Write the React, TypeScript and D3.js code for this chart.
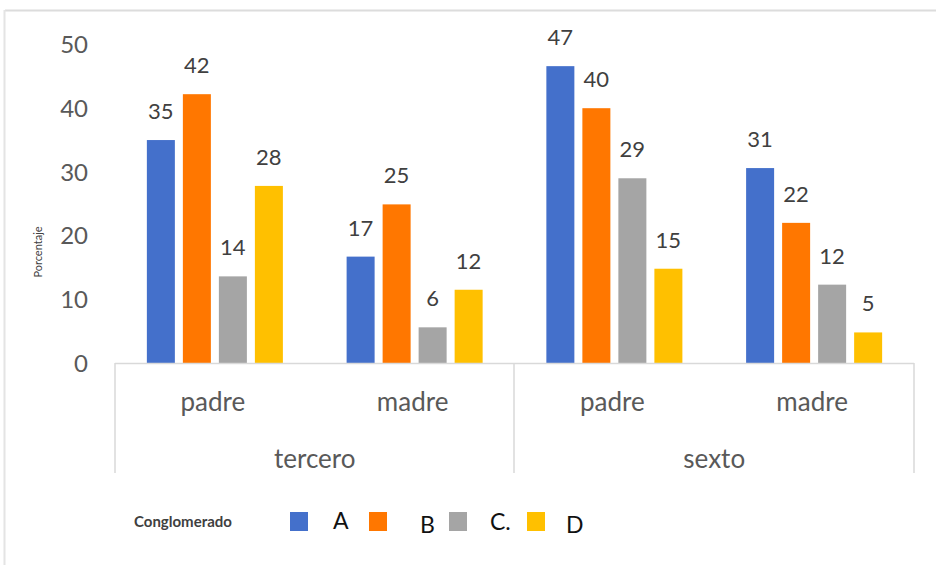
import React from "react";
import * as d3 from "d3";

const grades = ["tercero", "sexto"];
const parents = ["padre", "madre"];
const series = ["A", "B", "C.", "D"];
const colors = ["#4470CB", "#FF7700", "#A5A5A5", "#FFC000"];
// values per group (tercero-padre, tercero-madre, sexto-padre, sexto-madre) for A..D
const tercero_padre = [35, 42.2, 13.6, 27.8];
const tercero_madre = [16.7, 24.9, 5.6, 11.5];
const sexto_padre = [46.6, 40, 29, 14.8];
const sexto_madre = [30.6, 22, 12.3, 4.8];
const yTicks = [0, 10, 20, 30, 40, 50];

const groups = [
  { grade: "tercero", parent: parents[0], values: tercero_padre },
  { grade: "tercero", parent: parents[1], values: tercero_madre },
  { grade: "sexto", parent: parents[0], values: sexto_padre },
  { grade: "sexto", parent: parents[1], values: sexto_madre },
];

const FONT = "Lato, 'Open Sans', sans-serif";

export default function App() {
  const W = 936, H = 565;
  const y = d3.scaleLinear().domain([0, 50]).range([363, 44.5]);
  const x0 = d3.scaleBand<number>().domain(groups.map((_, i) => i)).range([115, 914]);
  const x1 = d3
    .scaleBand<string>()
    .domain(series)
    .range([0, x0.bandwidth()])
    .paddingInner(8 / 36)
    .paddingOuter(0.885);
  const xg = d3.scaleBand<string>().domain(grades).range([115, 914]);

  const legendSq = [290, 369, 449, 527];
  const legendTx = [[333, 529], [420, 533], [490, 530], [566, 533]];

  return (
    <svg width={W} height={H} style={{ position: "absolute", left: 0, top: 0, background: "#fff" }}>
      <rect x={0} y={0} width={W} height={H} fill="#fff" />
      {/* frame */}
      <line x1={5} x2={W} y1={10.5} y2={10.5} stroke="#dcdcdc" strokeWidth={2} />
      <line x1={4.5} x2={4.5} y1={10} y2={H} stroke="#e4e4e4" strokeWidth={2} />

      {/* y ticks */}
      {yTicks.map((t) => (
        <text key={t} x={88} y={y(t)} dy="0.36em" textAnchor="end" fontFamily={FONT} fontSize={24} fill="#595959">
          {t}
        </text>
      ))}
      <text
        transform="translate(42,252) rotate(-90)"
        textAnchor="middle"
        fontFamily={FONT}
        fontSize={11}
        fill="#404040"
      >
        Porcentaje
      </text>

      {/* bars */}
      {groups.map((g, gi) => (
        <g key={gi} transform={`translate(${x0(gi)},0)`}>
          {g.values.map((v, si) => (
            <g key={si}>
              <rect
                x={x1(series[si])}
                y={y(v)}
                width={x1.bandwidth()}
                height={y(0) - y(v)}
                fill={colors[si]}
              />
              <text
                x={(x1(series[si]) as number) + x1.bandwidth() / 2}
                y={y(v) - 21}
                textAnchor="middle"
                fontFamily={FONT}
                fontSize={22}
                fill="#404040"
              >
                {Math.round(v)}
              </text>
            </g>
          ))}
          <text
            x={x0.bandwidth() / 2 - 2}
            y={411}
            textAnchor="middle"
            fontFamily={FONT}
            fontSize={26}
            fill="#595959"
          >
            {g.parent}
          </text>
        </g>
      ))}

      {/* category axis */}
      <line x1={115} x2={914} y1={363.5} y2={363.5} stroke="#d9d9d9" strokeWidth={1.5} />
      {[115, 514, 914].map((xx, i) => (
        <line key={i} x1={xx} x2={xx} y1={363} y2={473} stroke="#d9d9d9" strokeWidth={1.5} />
      ))}
      {grades.map((gr) => (
        <text
          key={gr}
          x={(xg(gr) as number) + xg.bandwidth() / 2}
          y={468}
          textAnchor="middle"
          fontFamily={FONT}
          fontSize={26}
          fill="#595959"
        >
          {gr}
        </text>
      ))}

      {/* legend */}
      <text x={134} y={527} fontFamily={FONT} fontSize={15} fontWeight={700} fill="#404040">
        Conglomerado
      </text>
      {series.map((s, i) => (
        <g key={s}>
          <rect x={legendSq[i]} y={512} width={18} height={19} fill={colors[i]} />
          <text x={legendTx[i][0]} y={legendTx[i][1]} fontFamily={FONT} fontSize={23} fill="#111">
            {s}
          </text>
        </g>
      ))}
    </svg>
  );
}
